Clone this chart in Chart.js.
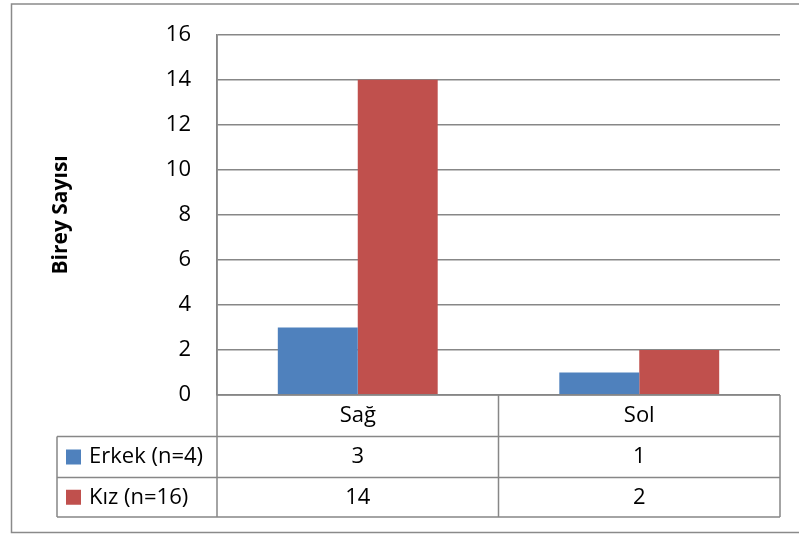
<!DOCTYPE html>
<html>
<head>
<meta charset="utf-8">
<title>Birey Sayısı</title>
<script src="https://cdn.jsdelivr.net/npm/chart.js@4.4.1/dist/chart.umd.min.js"></script>
<style>
  html, body { margin: 0; padding: 0; background: #ffffff; }
  canvas { display: block; }
</style>
</head>
<body>
<canvas id="chart" width="799" height="534"></canvas>
<script>
// Categories and series
const categories = ['Sağ', 'Sol'];
const seriesNames = ['Erkek (n=4)', 'Kız (n=16)'];
const erkekValues = [3, 1];
const kizValues = [14, 2];
const yAxisTitle = 'Birey Sayısı';
const yMax = 16;
const yStep = 2;

const seriesColors = ['#4F81BD', '#C0504D'];
const lineColor = '#878787';
const fontFamily = '"Open Sans", "Noto Sans", sans-serif';
const fontSize = 22;

// Draws the outer frame and the data table under the plot area
const dataTablePlugin = {
  id: 'dataTable',
  afterDraw(chart) {
    const { ctx, chartArea, scales } = chart;
    const x = scales.x;
    const left = chartArea.left, right = chartArea.right, bottom = chartArea.bottom;
    const tableLeft = 57;
    const rowLines = [bottom, 436.5, 477.5, 517];
    const rows = [erkekValues, kizValues];

    ctx.save();
    // outer frame
    ctx.strokeStyle = '#8a8a8a';
    ctx.lineWidth = 1.5;
    ctx.strokeRect(11.5, 4, 900, 528.5);

    ctx.strokeStyle = lineColor;
    ctx.lineWidth = 1.5;
    ctx.beginPath();
    // horizontal table lines
    ctx.moveTo(left, rowLines[0]); ctx.lineTo(right, rowLines[0]);
    for (let i = 1; i < rowLines.length; i++) {
      ctx.moveTo(tableLeft, rowLines[i]); ctx.lineTo(right, rowLines[i]);
    }
    // vertical lines
    ctx.moveTo(tableLeft, rowLines[1]); ctx.lineTo(tableLeft, rowLines[3]);
    ctx.moveTo(left, chartArea.top); ctx.lineTo(left, rowLines[3]);
    for (let i = 0; i < categories.length - 1; i++) {
      const mid = (x.getPixelForValue(i) + x.getPixelForValue(i + 1)) / 2;
      ctx.moveTo(mid, rowLines[0]); ctx.lineTo(mid, rowLines[3]);
    }
    ctx.moveTo(right, rowLines[0]); ctx.lineTo(right, rowLines[3]);
    ctx.stroke();

    // text
    ctx.fillStyle = '#000000';
    ctx.font = fontSize + 'px ' + fontFamily;
    ctx.textBaseline = 'middle';
    ctx.textAlign = 'center';
    categories.forEach((c, i) => {
      ctx.fillText(c, x.getPixelForValue(i), (rowLines[0] + rowLines[1]) / 2);
    });
    rows.forEach((vals, r) => {
      const cy = (rowLines[r + 1] + rowLines[r + 2]) / 2;
      ctx.textAlign = 'center';
      vals.forEach((v, i) => ctx.fillText(String(v), x.getPixelForValue(i), cy));
      // legend key
      ctx.fillStyle = seriesColors[r];
      ctx.fillRect(66, cy - 7.5, 15, 15);
      ctx.fillStyle = '#000000';
      ctx.textAlign = 'left';
      ctx.fillText(seriesNames[r], 89, cy);
    });
    ctx.restore();
  }
};

new Chart(document.getElementById('chart'), {
  type: 'bar',
  data: {
    labels: categories,
    datasets: [
      { label: seriesNames[0], data: erkekValues, backgroundColor: seriesColors[0] },
      { label: seriesNames[1], data: kizValues, backgroundColor: seriesColors[1] }
    ]
  },
  options: {
    responsive: false,
    animation: false,
    devicePixelRatio: 1,
    layout: { padding: { left: 11, top: 31, right: 19, bottom: 139 } },
    datasets: { bar: { categoryPercentage: 0.568, barPercentage: 1.0 } },
    plugins: {
      legend: { display: false },
      tooltip: { enabled: false }
    },
    scales: {
      x: { display: false },
      y: {
        min: 0,
        max: yMax,
        afterFit(scale) { scale.width = 206; },
        ticks: {
          stepSize: yStep,
          color: '#000000',
          padding: 26,
          font: { family: fontFamily, size: fontSize, lineHeight: 0.8 }
        },
        grid: { color: lineColor, lineWidth: 1.5, drawTicks: false },
        border: { display: true, color: lineColor, width: 1.5 },
        title: {
          display: true,
          text: yAxisTitle,
          color: '#000000',
          padding: { top: 37, bottom: 0 },
          font: { family: fontFamily, size: 21, weight: 'bold' }
        }
      }
    }
  },
  plugins: [dataTablePlugin]
});
</script>
</body>
</html>
